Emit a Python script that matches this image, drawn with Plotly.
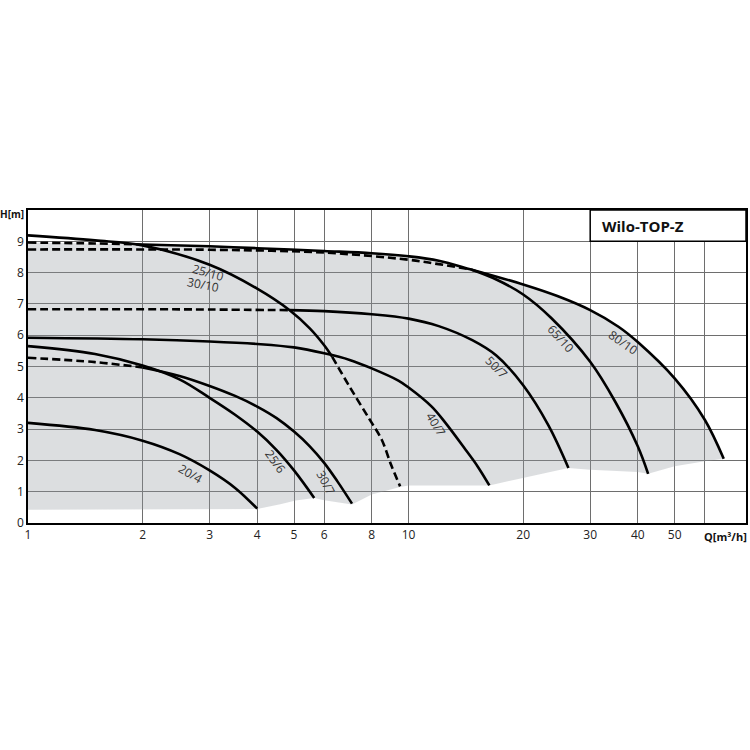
import numpy as np
import plotly.graph_objects as go

# Q [m3/h] and H [m]
q_20_4 = [1, 1.5, 2, 2.5, 3, 3.5, 4]
h_20_4 = [3.2, 2.97, 2.63, 2.2, 1.68, 1.12, 0.46]

q_25_6 = [1, 1.5, 2, 2.5, 3, 3.5, 4, 4.5, 5, 5.65]
h_25_6 = [5.65, 5.4, 5.03, 4.59, 4.0, 3.46, 2.92, 2.33, 1.68, 0.8]

q_30_7_dash = [1, 1.5, 2]
h_30_7_dash = [5.28, 5.14, 4.97]
q_30_7 = [2, 2.5, 3, 3.5, 4, 4.5, 5, 5.5, 6, 6.5, 7.1]
h_30_7 = [4.97, 4.7, 4.38, 4.06, 3.72, 3.35, 2.92, 2.45, 1.92, 1.33, 0.62]

q_40_7 = [1, 2, 3, 4, 5, 6, 7, 8, 9.4, 10, 11.5, 12.5, 14.1, 15.2, 16.3]
h_40_7 = [5.92, 5.87, 5.8, 5.72, 5.61, 5.42, 5.21, 4.94, 4.55, 4.33, 3.72, 3.2, 2.35, 1.8, 1.2]

q_50_7_dash = [1, 2, 3, 4.87]
h_50_7_dash = [6.83, 6.83, 6.82, 6.8]
q_50_7 = [4.87, 6, 8, 10, 12, 14.7, 17, 20, 23.3, 26.3]
h_50_7 = [6.8, 6.77, 6.67, 6.53, 6.29, 5.84, 5.35, 4.4, 3.12, 1.76]

q_25_10 = [1, 1.5, 2, 3, 4, 4.87, 5.5, 6, 6.3]
h_25_10 = [9.19, 9.03, 8.87, 8.25, 7.49, 6.8, 6.22, 5.68, 5.31]
q_30_10_dash = [6.3, 7, 7.86, 8.5, 9, 9.5]
h_30_10_dash = [5.31, 4.35, 3.35, 2.66, 1.85, 1.17]

q_65_10_dash = [1, 2, 3, 6, 10, 12, 14.6]
h_65_10_dash = [8.74, 8.74, 8.73, 8.64, 8.41, 8.27, 8.1]
q_65_10 = [14.6, 17, 20, 23.7, 30, 35, 40, 42.6]
h_65_10 = [8.1, 7.78, 7.3, 6.55, 5.15, 3.85, 2.45, 1.57]

q_80_10_dash = [1, 1.5, 2]
h_80_10_dash = [8.96, 8.93, 8.9]
q_80_10 = [2, 3, 4, 6, 8, 10, 12, 14.6, 20, 24.6, 30, 35.6, 40, 50, 60, 67.3]
h_80_10 = [8.9, 8.84, 8.78, 8.69, 8.62, 8.52, 8.38, 8.1, 7.62, 7.25, 6.8, 6.27, 5.78, 4.62, 3.3, 2.05]

# lower edge of the grey working range
q_floor = [1, 4, 4.6, 5.05, 5.65, 6, 7.1, 8, 9.5, 10, 16.3, 20, 26.3, 30, 40, 42.6, 50, 60, 67.3]
h_floor = [0.42, 0.45, 0.6, 0.72, 0.8, 0.73, 0.59, 0.91, 1.15, 1.2, 1.2, 1.44, 1.76, 1.7, 1.63, 1.57, 1.81, 1.97, 2.05]

# curve labels: text, Q, H, angle
labels = [
    ("25/10", 2.97, 8.0, 16),
    ("30/10", 2.88, 7.62, 11),
    ("20/4", 2.67, 1.58, 30),
    ("25/6", 4.47, 1.97, 55),
    ("30/7", 6.05, 1.28, 62),
    ("40/7", 11.8, 3.14, 58),
    ("50/7", 17.06, 4.97, 45),
    ("65/10", 25.1, 5.9, 48),
    ("80/10", 36.6, 5.76, 35),
]

x_ticks = [1, 2, 3, 4, 5, 6, 8, 10, 20, 30, 40, 50, 60]
x_ticktext = ["1", "2", "3", "4", "5", "6", "8", "10", "20", "30", "40", "50", ""]
y_ticks = [0, 1, 2, 3, 4, 5, 6, 7, 8, 9]

FONT = "Open Sans"
FILL = "rgba(150,155,160,0.33)"

fig = go.Figure()

# grey envelope
fig.add_trace(go.Scatter(
    x=q_80_10_dash + q_80_10[1:] + q_floor[::-1],
    y=h_80_10_dash + h_80_10[1:] + h_floor[::-1],
    fill="toself", fillcolor=FILL, mode="lines",
    line=dict(width=0), hoverinfo="skip", showlegend=False,
))

solid = [
    (q_20_4, h_20_4), (q_25_6, h_25_6), (q_30_7, h_30_7), (q_40_7, h_40_7),
    (q_50_7, h_50_7), (q_25_10, h_25_10), (q_65_10, h_65_10), (q_80_10, h_80_10),
]
dashed = [
    (q_30_7_dash, h_30_7_dash), (q_50_7_dash, h_50_7_dash), (q_30_10_dash, h_30_10_dash),
    (q_65_10_dash, h_65_10_dash), (q_80_10_dash, h_80_10_dash),
]
for q, h in solid:
    fig.add_trace(go.Scatter(x=q, y=h, mode="lines", line_shape="spline",
                             line=dict(color="black", width=2.6), showlegend=False))
for q, h in dashed:
    fig.add_trace(go.Scatter(x=q, y=h, mode="lines", line_shape="spline",
                             line=dict(color="black", width=2.6, dash="8px,4px"), showlegend=False))

for txt, q, h, ang in labels:
    fig.add_annotation(x=np.log10(q), y=h, text=txt, showarrow=False, textangle=ang,
                       font=dict(family=FONT, size=12, color="#333"))

# title box
fig.add_shape(type="rect", xref="paper", yref="y", x0=np.log10(30) / np.log10(77), x1=1, y0=9, y1=10,
              fillcolor="white", line=dict(color="black", width=1.5), layer="above")
fig.add_annotation(xref="paper", yref="y", x=0.797, y=9.5, xanchor="left", yanchor="middle",
                   text="<b>Wilo-TOP-Z</b>", showarrow=False,
                   font=dict(family=FONT, size=15, color="#111"))
fig.add_annotation(xref="paper", yref="y", x=0, y=9.86, xanchor="right", xshift=-2,
                   text="<b>H[m]</b>", showarrow=False, font=dict(family=FONT, size=10, color="#111"))
fig.add_annotation(xref="x", yref="paper", x=np.log10(68), y=0, yanchor="top", yshift=-4,
                   text="<b>Q[m³/h]</b>", showarrow=False, font=dict(family=FONT, size=11, color="#111"))

fig.update_xaxes(type="log", range=[0, np.log10(77)], tickvals=x_ticks, ticktext=x_ticktext,
                 showgrid=True, gridcolor="#6e6e6e", gridwidth=1,
                 showline=True, linecolor="black", linewidth=1.5, mirror=True,
                 ticks="", tickfont=dict(family=FONT, size=12, color="#222"), zeroline=False)
fig.update_yaxes(range=[0, 10], tickvals=y_ticks, showgrid=True, gridcolor="#6e6e6e", gridwidth=1,
                 showline=True, linecolor="black", linewidth=1.5, mirror=True,
                 ticks="", tickfont=dict(family=FONT, size=12, color="#222"), zeroline=False)

fig.update_layout(
    width=750, height=750,
    margin=dict(l=28, r=2, t=210, b=227),
    plot_bgcolor="white", paper_bgcolor="white",
    showlegend=False,
)

# drop the default body margin so the figure fills the window exactly
fig.write_html("out.html", config={"displayModeBar": False},
               post_script="document.body.style.margin='0';")
